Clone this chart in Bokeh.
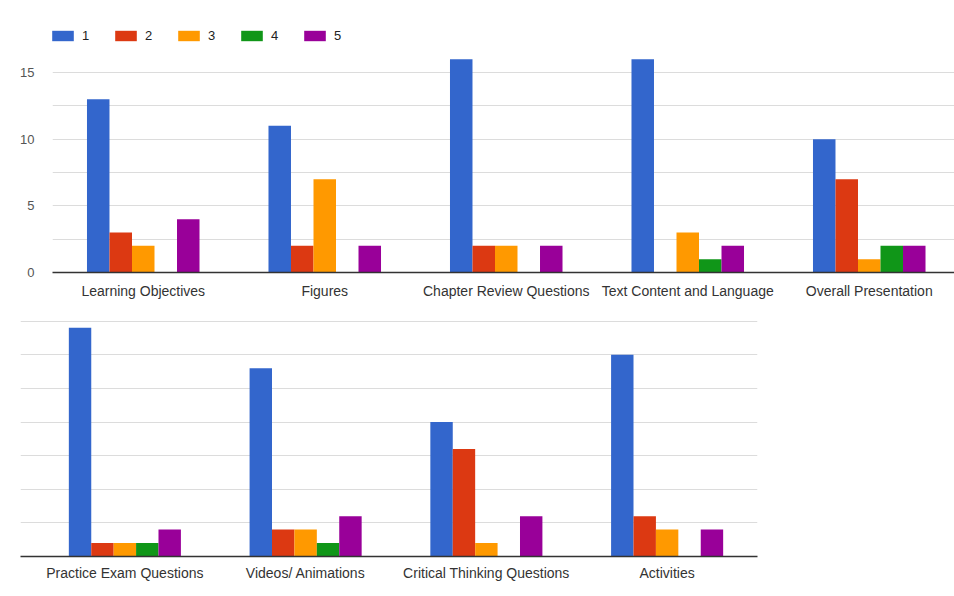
from bokeh.plotting import figure
from bokeh.models import Range1d, FixedTicker, Legend, LegendItem, ColumnDataSource
from bokeh.transform import dodge
from bokeh.embed import file_html
from bokeh.resources import INLINE

# ---- data ----
series_names = ["1", "2", "3", "4", "5"]
colors = ["#3366cc", "#dc3912", "#ff9900", "#109618", "#990099"]

top_categories = ["Learning Objectives", "Figures", "Chapter Review Questions",
                  "Text Content and Language", "Overall Presentation"]
top_s1 = [13, 11, 16, 16, 10]
top_s2 = [3, 2, 2, 0, 7]
top_s3 = [2, 7, 2, 3, 1]
top_s4 = [0, 0, 0, 1, 2]
top_s5 = [4, 2, 2, 2, 2]

bottom_categories = ["Practice Exam Questions", "Videos/ Animations",
                     "Critical Thinking Questions", "Activities"]
bottom_s1 = [17, 14, 10, 15]
bottom_s2 = [1, 2, 8, 3]
bottom_s3 = [1, 2, 1, 2]
bottom_s4 = [1, 1, 0, 0]
bottom_s5 = [2, 3, 3, 2]

y_ticks = [0, 5, 10, 15]
y_minor = [2.5, 7.5, 12.5]

FONT = "Liberation Sans"
BAR_W = 0.124
GRID = "#dcdcdc"


def make_panel(cats, series, width, height, borders, xr, yr, show_y, minor, standoff):
    p = figure(width=width, height=height, output_backend="svg", toolbar_location=None,
               x_range=Range1d(*xr), y_range=Range1d(*yr),
               min_border_left=borders[0], min_border_right=borders[1],
               min_border_top=borders[2], min_border_bottom=borders[3])
    p.outline_line_color = None
    p.background_fill_color = "white"
    src = ColumnDataSource(dict(x=list(range(len(cats))),
                                **{f"s{k}": v for k, v in enumerate(series)}))
    renderers = []
    for k in range(5):
        r = p.vbar(x=dodge("x", (k - 2) * BAR_W, range=p.x_range), top=f"s{k}",
                   width=BAR_W, source=src, fill_color=colors[k], line_color=None)
        renderers.append(r)
    # x axis
    p.xaxis.ticker = FixedTicker(ticks=list(range(len(cats))))
    p.xaxis.major_label_overrides = {i: c for i, c in enumerate(cats)}
    p.xaxis.major_tick_line_color = None
    p.xaxis.minor_tick_line_color = None
    p.xaxis.axis_line_color = "#333333"
    p.xaxis.axis_line_width = 1.5
    p.xaxis.major_label_text_font = FONT
    p.xaxis.major_label_text_font_size = "14px"
    p.xaxis.major_label_text_color = "#333333"
    p.xaxis.major_label_standoff = standoff
    p.xgrid.visible = False
    # y axis / grid
    yt = FixedTicker(ticks=y_ticks, minor_ticks=minor)
    p.yaxis.ticker = yt
    p.ygrid.ticker = yt
    p.ygrid.grid_line_color = GRID
    p.ygrid.minor_grid_line_color = GRID
    p.yaxis.axis_line_color = None
    p.yaxis.major_tick_line_color = None
    p.yaxis.minor_tick_line_color = None
    p.yaxis.major_label_text_font = FONT
    p.yaxis.major_label_text_font_size = "13px"
    p.yaxis.major_label_text_color = "#555555"
    p.yaxis.major_label_standoff = 12
    if not show_y:
        p.yaxis.visible = False
    return p, renderers


# top panel: frame x 52..954, y 15..272 (0 at 272, 15 at 72)
top_px_per_unit = 200 / 15
top_unit = 181.5
top, top_r = make_panel(
    top_categories, [top_s1, top_s2, top_s3, top_s4, top_s5],
    954, 305, (52, 0, 15, 33),
    (-0.5, -0.5 + 902 / top_unit), (0, 257 / top_px_per_unit), True, y_minor, 4)

legend = Legend(items=[LegendItem(label=series_names[k], renderers=[top_r[k]]) for k in range(5)],
                orientation="horizontal", location=(-3, 229),
                glyph_width=27, glyph_height=13, label_standoff=6, spacing=10,
                padding=0, margin=0, border_line_color=None, background_fill_alpha=0,
                label_text_font=FONT, label_text_font_size="13px", label_text_color="#222222")
top.add_layout(legend)

# bottom panel: frame x 20..757, y 317..556 (absolute)
bot_px_per_unit = 13.45
bot_unit = 180.8
bottom, _ = make_panel(
    bottom_categories, [bottom_s1, bottom_s2, bottom_s3, bottom_s4, bottom_s5],
    954, 291, (20, 197, 12, 40),
    (-0.5 - 14 / bot_unit, 3.5), (0, 239 / bot_px_per_unit), False, y_minor + [17.5], 2)

open("out.html", "w").write(file_html((top, bottom), INLINE))
